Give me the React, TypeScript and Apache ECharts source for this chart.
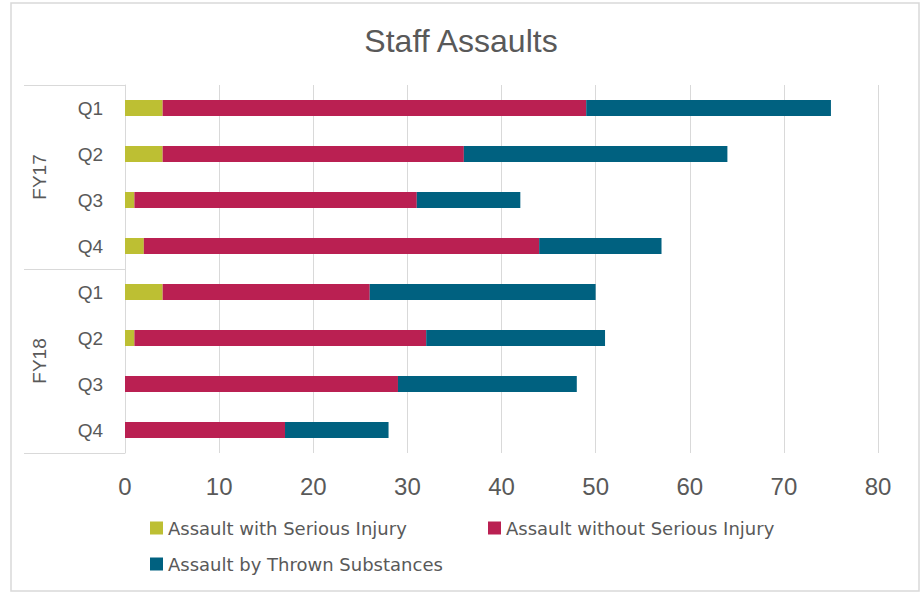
import React, { useEffect, useRef } from "react";
import * as echarts from "echarts";

const quarters = ["Q1", "Q2", "Q3", "Q4", "Q1", "Q2", "Q3", "Q4"];
const years = ["FY17", "FY18"];
const xTicks = { min: 0, max: 80, interval: 10 };
const seriousInjury = [4, 4, 1, 2, 4, 1, 0, 0];
const withoutSeriousInjury = [45, 32, 30, 42, 22, 31, 29, 17];
const thrownSubstances = [26, 28, 11, 13, 24, 19, 19, 11];
const seriesNames = [
  "Assault with Serious Injury",
  "Assault without Serious Injury",
  "Assault by Thrown Substances",
];
const colors = ["#bdbf33", "#ba2052", "#006180"];

export default function App() {
  const ref = useRef<HTMLDivElement>(null);
  useEffect(() => {
    if (!ref.current) return;
    const chart = echarts.init(ref.current, null, { renderer: "svg" });
    const textColor = "#595959";
    const gridColor = "#d9d9d9";
    const legendText = { color: textColor, fontSize: 18, fontFamily: "DejaVu Sans" };
    const dataSets = [seriousInjury, withoutSeriousInjury, thrownSubstances];
    chart.setOption({
      animation: false,
      backgroundColor: "#ffffff",
      title: {
        text: "Staff Assaults",
        left: "center",
        top: 20,
        textStyle: { color: textColor, fontSize: 32, fontWeight: "normal", fontFamily: "Liberation Sans" },
      },
      graphic: [
        {
          type: "rect",
          shape: { x: 11, y: 3, width: 908, height: 588 },
          style: { fill: "none", stroke: gridColor, lineWidth: 1.5 },
          silent: true,
        },
      ],
      grid: { left: 125, right: 44, top: 85, bottom: 139 },
      xAxis: {
        type: "value",
        min: xTicks.min,
        max: xTicks.max,
        interval: xTicks.interval,
        axisLine: { show: false },
        axisTick: { show: false },
        axisLabel: { color: textColor, fontSize: 24, fontFamily: "Liberation Sans", margin: 21 },
        splitLine: { show: true, lineStyle: { color: gridColor, width: 1 } },
      },
      yAxis: [
        {
          type: "category",
          data: quarters,
          inverse: true,
          axisLine: { show: true, lineStyle: { color: gridColor, width: 1 } },
          axisTick: { show: false },
          axisLabel: { color: textColor, fontSize: 19, fontFamily: "Liberation Sans", margin: 22 },
        },
        {
          type: "category",
          data: years,
          inverse: true,
          position: "left",
          offset: 101,
          axisLine: { show: false },
          axisTick: { show: true, inside: true, length: 101, lineStyle: { color: gridColor, width: 1 } },
          axisLabel: {
            color: textColor,
            fontSize: 19,
            fontFamily: "Liberation Sans",
            inside: true,
            rotate: 90,
            margin: 5,
            lineHeight: 20,
          },
        },
      ],
      legend: seriesNames.map((name, i) => ({
        data: [name],
        left: i === 1 ? 488 : 150,
        top: i === 2 ? 555 : 519,
        padding: 0,
        itemWidth: 13,
        itemHeight: 13,
        icon: "rect",
        textStyle: legendText,
        selectedMode: false,
      })),
      series: seriesNames.map((name, i) => ({
        name,
        type: "bar",
        stack: "total",
        barWidth: 16,
        yAxisIndex: 0,
        itemStyle: { color: colors[i] },
        data: dataSets[i],
      })),
    });
    return () => chart.dispose();
  }, []);
  return (
    <div
      ref={ref}
      style={{ position: "fixed", left: 0, top: 0, width: 922, height: 592 }}
    />
  );
}
